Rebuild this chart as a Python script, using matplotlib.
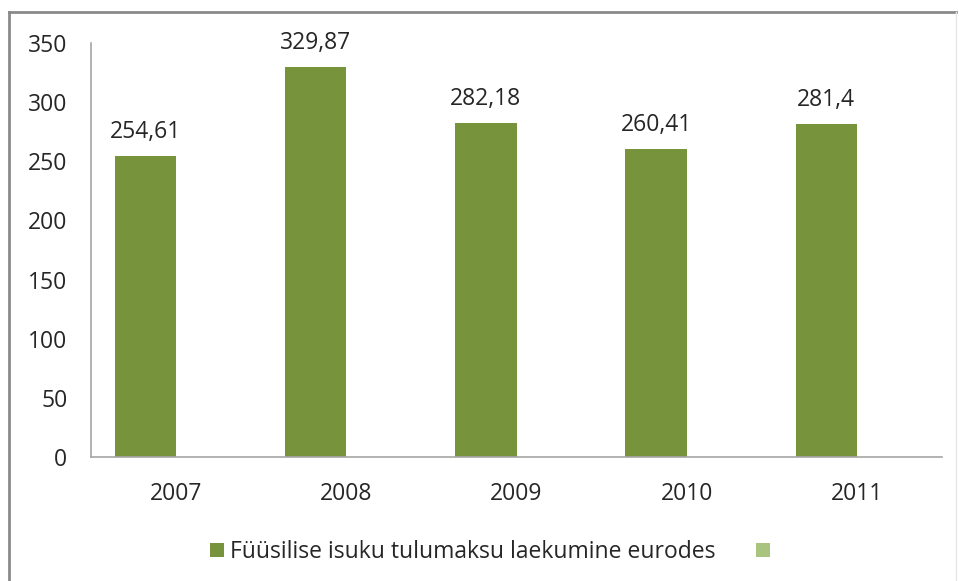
import matplotlib
matplotlib.use("Agg")
import matplotlib.pyplot as plt
from matplotlib.lines import Line2D
from matplotlib.patches import Patch

years = ["2007", "2008", "2009", "2010", "2011"]
values = [254.61, 329.87, 282.18, 260.41, 281.4]
value_labels = ["254,61", "329,87", "282,18", "260,41", "281,4"]
series_name = "Füüsilise isuku tulumaksu laekumine eurodes"
yticks = [0, 50, 100, 150, 200, 250, 300, 350]

plt.rcParams['font.family'] = ['Open Sans', 'DejaVu Sans']
FS = 16.5
TXT = "#262626"

W, H = 959, 581
fig = plt.figure(figsize=(W / 100, H / 100), dpi=100)
fig.patch.set_facecolor("white")

# outer chart border
fig.add_artist(Line2D([9 / W, 9 / W], [0, 1 - 12 / H], transform=fig.transFigure, color="#8a8a8a", lw=2))
fig.add_artist(Line2D([9 / W, 956 / W], [1 - 12 / H, 1 - 12 / H], transform=fig.transFigure, color="#8a8a8a", lw=2))
fig.add_artist(Line2D([956 / W, 956 / W], [0, 1 - 12 / H], transform=fig.transFigure, color="#e6e6e6", lw=1))

ax = fig.add_axes([91 / W, 1 - 457 / H, (942 - 91) / W, (457 - 43) / H])
x = list(range(len(years)))
offset = 0.18
bw = 0.36
ax.bar([xi - offset for xi in x], values, width=bw, color="#77933C")
for xi, v, lab in zip(x, values, value_labels):
    ax.text(xi - offset, v + 15, lab, ha="center", va="baseline", fontsize=FS, color=TXT)

ax.set_xlim(-0.5, len(years) - 0.5)
ax.set_ylim(0, 350)
ax.set_yticks(yticks)
ax.set_yticklabels([str(t) for t in yticks], fontsize=FS, color=TXT)
ax.set_xticks(x)
ax.set_xticklabels(years, fontsize=FS, color=TXT)
ax.tick_params(axis="y", length=0, pad=17)
ax.tick_params(axis="x", length=0, pad=18)
for s in ["top", "right"]:
    ax.spines[s].set_visible(False)
ax.spines["left"].set_color("#a6a6a6")
ax.spines["bottom"].set_color("#a6a6a6")
ax.spines["left"].set_linewidth(1.2)
ax.spines["bottom"].set_linewidth(1.2)

handles = [Patch(facecolor="#77933C"), Patch(facecolor="#A9C47F")]
leg = fig.legend(handles, [series_name, ""], loc="center", bbox_to_anchor=(0.514, 1 - 552 / H),
                 ncol=2, frameon=False, fontsize=FS, handlelength=0.6, handleheight=0.6,
                 handletextpad=0.26, columnspacing=1.8, borderpad=0)
for t in leg.get_texts():
    t.set_color(TXT)

fig.savefig("out.png", dpi=100, facecolor="white")
